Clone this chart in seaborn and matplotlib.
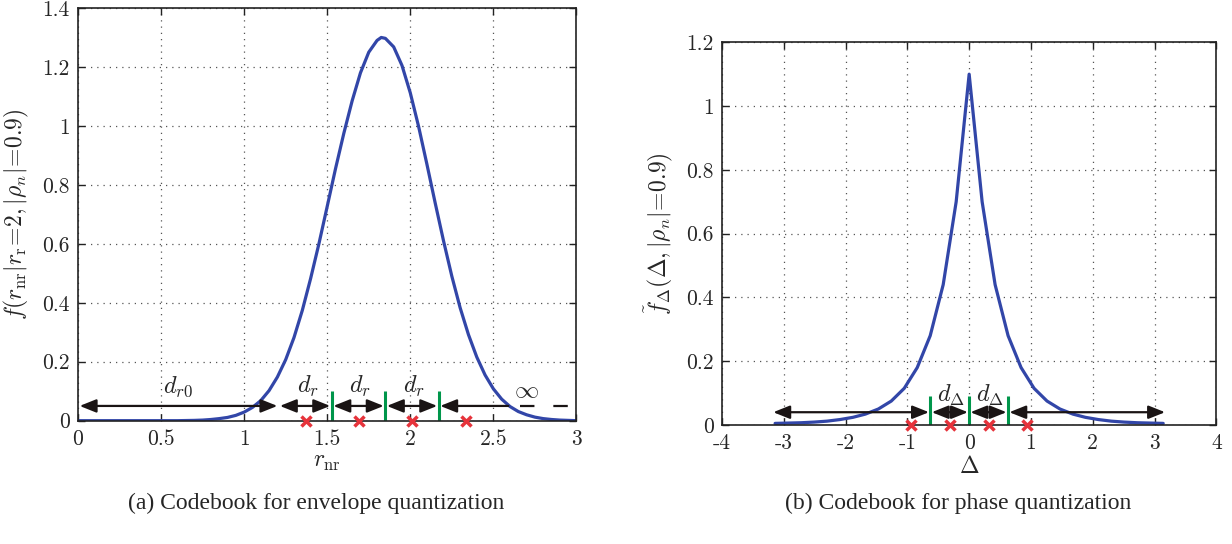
import numpy as np
import pandas as pd
import matplotlib
matplotlib.use("Agg")
import matplotlib.pyplot as plt
import seaborn as sns

# ---------------- data ----------------
# (a) envelope pdf f(r_nr | r_r = 2, |rho_n| = 0.9)
r_nr = [0.00, 0.10, 0.20, 0.30, 0.40, 0.50, 0.60, 0.65, 0.70, 0.75, 0.80, 0.85,
        0.90, 0.95, 1.00, 1.05, 1.10, 1.15, 1.20, 1.25, 1.30, 1.35, 1.40, 1.45,
        1.50, 1.55, 1.60, 1.65, 1.70, 1.75, 1.80, 1.825, 1.85, 1.90, 1.95, 2.00, 2.05,
        2.10, 2.15, 2.20, 2.25, 2.30, 2.35, 2.40, 2.45, 2.50, 2.55, 2.60, 2.65,
        2.70, 2.75, 2.80, 2.85, 2.90, 2.95, 3.00]
f_env = [0.000, 0.000, 0.000, 0.000, 0.000, 0.000, 0.000, 0.0005, 0.001, 0.002, 0.004, 0.007,
         0.011, 0.018, 0.029, 0.045, 0.068, 0.102, 0.148, 0.207, 0.282, 0.374, 0.482, 0.600,
         0.727, 0.855, 0.975, 1.085, 1.180, 1.250, 1.290, 1.300, 1.297, 1.268, 1.205, 1.112, 0.998,
         0.870, 0.738, 0.610, 0.490, 0.383, 0.292, 0.216, 0.155, 0.108, 0.073, 0.048, 0.031,
         0.020, 0.012, 0.007, 0.004, 0.002, 0.001, 0.000]

# codebook (a)
env_bounds = [1.527, 1.849, 2.171]
env_points = [1.374, 1.692, 2.010, 2.336]

# (b) phase-difference pdf
delta = [-3.14, -2.93, -2.72, -2.51, -2.30, -2.09, -1.88, -1.68, -1.47, -1.26, -1.05,
         -0.84, -0.63, -0.42, -0.21, 0.00, 0.21, 0.42, 0.63, 0.84, 1.05, 1.26, 1.47,
         1.68, 1.88, 2.09, 2.30, 2.51, 2.72, 2.93, 3.14]
f_phase = [0.005, 0.006, 0.007, 0.009, 0.012, 0.017, 0.024, 0.034, 0.050, 0.075, 0.115,
           0.180, 0.280, 0.440, 0.700, 1.100, 0.700, 0.440, 0.280, 0.180, 0.115, 0.075, 0.050,
           0.034, 0.024, 0.017, 0.012, 0.009, 0.007, 0.006, 0.005]

# codebook (b)
phase_bounds = [-0.628, 0.0, 0.628]
phase_points = [-0.942, -0.314, 0.314, 0.942]

xt_a = [0, 0.5, 1, 1.5, 2, 2.5, 3]
xt_a_lab = ["0", "0.5", "1", "1.5", "2", "2.5", "3"]
yt_a = [0, 0.2, 0.4, 0.6, 0.8, 1.0, 1.2, 1.4]
yt_a_lab = ["0", "0.2", "0.4", "0.6", "0.8", "1", "1.2", "1.4"]
xt_b = [-4, -3, -2, -1, 0, 1, 2, 3, 4]
xt_b_lab = ["-4", "-3", "-2", "-1", "0", "1", "2", "3", "4"]
yt_b = [0, 0.2, 0.4, 0.6, 0.8, 1.0, 1.2]
yt_b_lab = ["0", "0.2", "0.4", "0.6", "0.8", "1", "1.2"]

# ---------------- style ----------------
sns.set_theme(style="ticks")
plt.rcParams["font.family"] = ["cmr10", "DejaVu Serif"]
plt.rcParams["mathtext.fontset"] = "cm"
plt.rcParams["axes.unicode_minus"] = False

BLUE = "#3246A8"
GREEN = "#00964B"
RED = "#E6333B"
BLACK = "#1A1414"
TICK_FS = 15.5

fig = plt.figure(figsize=(12.32, 5.44), dpi=100)
axA = fig.add_axes([0.0633, 0.2267, 0.4046, 0.7586])
axB = fig.add_axes([0.5860, 0.2188, 0.4013, 0.7035])


def style_axes(ax, xt, xl, yt, yl, xlim, ylim):
    ax.set_xlim(*xlim)
    ax.set_ylim(*ylim)
    ax.set_xticks(xt)
    ax.set_xticklabels(xl, fontsize=TICK_FS)
    ax.set_yticks(yt)
    ax.set_yticklabels(yl, fontsize=TICK_FS)
    ax.grid(True, linestyle=(0, (1, 4)), color="#555555", linewidth=0.9)
    ax.tick_params(direction="in", top=True, right=True, length=5, width=1.0,
                   color="#222222", pad=6)
    for s in ax.spines.values():
        s.set_linewidth(1.2)
        s.set_color("#222222")
        s.set_visible(True)
    ax.set_axisbelow(True)


dfA = pd.DataFrame({"r": r_nr, "f": f_env})
sns.lineplot(data=dfA, x="r", y="f", ax=axA, color=BLUE, linewidth=2.3)
style_axes(axA, xt_a, xt_a_lab, yt_a, yt_a_lab, (0, 3), (0, 1.4))
axA.set_xlabel(r"$r_{\rm nr}$", fontsize=17, labelpad=2)
axA.set_ylabel(r"$f(r_{\rm nr}|r_{\rm r}\!=\!2,|\rho_n|\!=\!0.9)$", fontsize=17, labelpad=8)

dfB = pd.DataFrame({"d": delta, "f": f_phase})
sns.lineplot(data=dfB, x="d", y="f", ax=axB, color=BLUE, linewidth=2.3)
style_axes(axB, xt_b, xt_b_lab, yt_b, yt_b_lab, (-4, 4), (0, 1.2))
axB.set_xlabel(r"$\Delta$", fontsize=17, labelpad=2)
axB.set_ylabel(r"$\tilde{f}_{\Delta}(\Delta,|\rho_n|\!=\!0.9)$", fontsize=17, labelpad=8)


def arrow(ax, x0, x1, y, style="<|-|>"):
    ax.annotate("", xy=(x1, y), xytext=(x0, y),
                arrowprops=dict(arrowstyle=style + ",head_length=0.5,head_width=0.2",
                                color=BLACK, lw=1.6, shrinkA=0, shrinkB=0,
                                mutation_scale=20))


# ---- annotations (a)
ya = 0.05
arrow(axA, 0.01, 1.20, ya)
arrow(axA, 1.215, 1.518, ya)
arrow(axA, 1.537, 1.840, ya)
arrow(axA, 1.859, 2.162, ya)
arrow(axA, 2.59, 2.18, ya, style="-|>")
axA.plot([2.66, 2.98], [ya, ya], color=BLACK, lw=1.6, ls=(0, (6.5, 8.5)), solid_capstyle="butt")
for b in env_bounds:
    axA.plot([b, b], [0, 0.1], color=GREEN, lw=2.2, solid_capstyle="butt")
axA.plot(env_points, [0] * len(env_points), ls="none", marker="x", color=RED,
         ms=6.5, mew=2.5, clip_on=False, zorder=5)
axA.text(0.60, 0.072, r"$d_{r0}$", fontsize=17.5, ha="center", va="bottom")
for xc in [1.385, 1.70, 2.02]:
    axA.text(xc, 0.072, r"$d_r$", fontsize=17.5, ha="center", va="bottom")
axA.text(2.70, 0.065, r"$\infty$", fontsize=17.5, ha="center", va="bottom")

# ---- annotations (b)
yb = 0.04
arrow(axB, -3.17, -0.65, yb)
arrow(axB, -0.605, -0.02, yb)
arrow(axB, 0.02, 0.605, yb)
arrow(axB, 0.65, 3.17, yb)
for b in phase_bounds:
    axB.plot([b, b], [0, 0.09], color=GREEN, lw=2.2, solid_capstyle="butt")
axB.plot(phase_points, [0] * len(phase_points), ls="none", marker="x", color=RED,
         ms=6.5, mew=2.5, clip_on=False, zorder=5)
for xc in [-0.30, 0.33]:
    axB.text(xc, 0.053, r"$d_{\Delta}$", fontsize=17.5, ha="center", va="bottom")

# ---- captions
fig.text(316 / 1232, 1 - 503 / 544, "(a) Codebook for envelope quantization",
         fontsize=17, family="Liberation Serif", ha="center", va="center")
fig.text(958 / 1232, 1 - 503 / 544, "(b) Codebook for phase quantization",
         fontsize=17, family="Liberation Serif", ha="center", va="center")

fig.savefig("out.png", dpi=100)
